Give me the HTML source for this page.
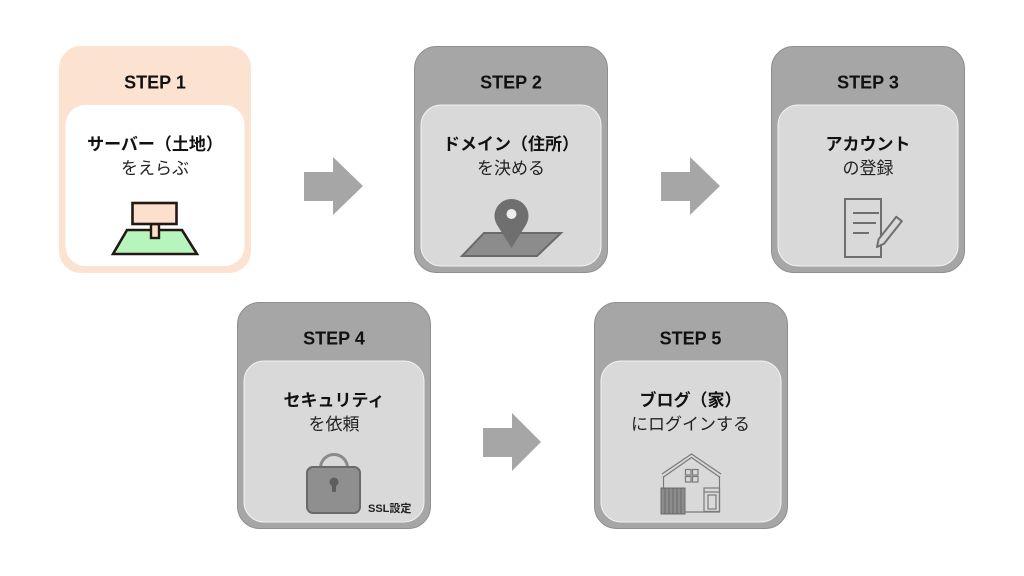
<!DOCTYPE html>
<html>
<head>
<meta charset="utf-8">
<style>
html,body{margin:0;padding:0;background:#fff;}
svg{display:block;}
.step{font-family:"Liberation Sans","Noto Sans CJK JP",sans-serif;font-weight:bold;font-size:18px;fill:#111;}
.t1{font-family:"Liberation Sans","Noto Sans CJK JP",sans-serif;font-weight:bold;font-size:17px;fill:#111;}
.t2{font-family:"Liberation Sans","Noto Sans CJK JP",sans-serif;font-size:17px;fill:#222;}
</style>
</head>
<body>
<svg width="1024" height="576" viewBox="0 0 1024 576" xmlns="http://www.w3.org/2000/svg">
<rect width="1024" height="576" fill="#fff"/>

<!-- Box 1 -->
<rect x="59" y="46" width="192" height="227" rx="22" fill="#fce3d1"/>
<rect x="65.5" y="105" width="179" height="161" rx="20" fill="#ffffff"/>
<text class="step" x="155" y="88.5" text-anchor="middle">STEP 1</text>
<text class="t1" x="155" y="150" text-anchor="middle">サーバー（土地）</text>
<text class="t2" x="155" y="174" text-anchor="middle">をえらぶ</text>
<polygon points="127,230 182,230 197,254 113,254" fill="#b6f5bc" stroke="#231815" stroke-width="2.6" stroke-linejoin="miter"/>
<rect x="151" y="224" width="8" height="14" fill="#fde0cc" stroke="#231815" stroke-width="2.4"/>
<rect x="132.5" y="203" width="44" height="21" fill="#fde0cc" stroke="#231815" stroke-width="2.6"/>

<!-- Box 2 -->
<rect x="414.5" y="46.5" width="193" height="226" rx="22" fill="#a6a6a6" stroke="#8f8f8f" stroke-width="1"/>
<rect x="421" y="105" width="180" height="161" rx="20" fill="#d9d9d9" stroke="#f2f2f2" stroke-width="1"/>
<text class="step" x="511" y="88.5" text-anchor="middle">STEP 2</text>
<text class="t1" x="511" y="150" text-anchor="middle">ドメイン（住所）</text>
<text class="t2" x="511" y="174" text-anchor="middle">を決める</text>
<polygon points="484,233 561,233 537,256 462,256" fill="#8c8c8c" stroke="#6a6a6a" stroke-width="2"/>
<path d="M511.5 248 L497.1 225 A17 17 0 1 1 525.9 225 Z" fill="#6f6f6f"/>
<circle cx="511.5" cy="214" r="5" fill="#eeeeee"/>

<!-- Box 3 -->
<rect x="771.5" y="46.5" width="193" height="226" rx="22" fill="#a6a6a6" stroke="#8f8f8f" stroke-width="1"/>
<rect x="778" y="105" width="180" height="161" rx="20" fill="#d9d9d9" stroke="#f2f2f2" stroke-width="1"/>
<text class="step" x="868" y="88.5" text-anchor="middle">STEP 3</text>
<text class="t1" x="868" y="150" text-anchor="middle">アカウント</text>
<text class="t2" x="868" y="174" text-anchor="middle">の登録</text>
<rect x="845" y="199" width="36" height="58" fill="none" stroke="#6f6f6f" stroke-width="2"/>
<line x1="853" y1="213" x2="879" y2="213" stroke="#6f6f6f" stroke-width="2"/>
<line x1="853" y1="223" x2="876" y2="223" stroke="#6f6f6f" stroke-width="2"/>
<line x1="853" y1="233" x2="869" y2="233" stroke="#6f6f6f" stroke-width="2"/>
<polygon points="877,247 884,243.7 901.8,221.2 896.3,216.8 878.6,239.3" fill="#d9d9d9" stroke="#6f6f6f" stroke-width="2" stroke-linejoin="round"/>

<!-- Box 4 -->
<rect x="237.5" y="302.5" width="193" height="226" rx="22" fill="#a6a6a6" stroke="#8f8f8f" stroke-width="1"/>
<rect x="244" y="361" width="180" height="161" rx="20" fill="#d9d9d9" stroke="#f2f2f2" stroke-width="1"/>
<text class="step" x="334" y="344.5" text-anchor="middle">STEP 4</text>
<text class="t1" x="334" y="406" text-anchor="middle">セキュリティ</text>
<text class="t2" x="334" y="430" text-anchor="middle">を依頼</text>
<path d="M320.5 468 A13.5 13.5 0 0 1 347.5 468" fill="none" stroke="#8a8a8a" stroke-width="3"/>
<rect x="307" y="467" width="53" height="46" rx="6" fill="#8f8f8f" stroke="#6a6a6a" stroke-width="2"/>
<circle cx="334" cy="482" r="4.5" fill="#5e5e5e"/>
<rect x="332" y="482" width="4" height="10" rx="1" fill="#5e5e5e"/>
<text x="368" y="512" font-family="'Liberation Sans','Noto Sans CJK JP',sans-serif" font-weight="bold" font-size="11" fill="#222">SSL設定</text>

<!-- Box 5 -->
<rect x="594.5" y="302.5" width="193" height="226" rx="22" fill="#a6a6a6" stroke="#8f8f8f" stroke-width="1"/>
<rect x="601" y="361" width="180" height="161" rx="20" fill="#d9d9d9" stroke="#f2f2f2" stroke-width="1"/>
<text class="step" x="690.5" y="344.5" text-anchor="middle">STEP 5</text>
<text class="t1" x="690.5" y="406" text-anchor="middle">ブログ（家）</text>
<text class="t2" x="690.5" y="430" text-anchor="middle">にログインする</text>
<g fill="none" stroke="#7a7a7a" stroke-width="1.2">
<polyline points="662,474 691.5,454 721,474"/>
<polyline points="663.5,477 691.5,457.5 719.5,477"/>
<line x1="663.5" y1="476" x2="663.5" y2="489"/>
<line x1="719.5" y1="476" x2="719.5" y2="512"/>
<line x1="685" y1="512" x2="720" y2="512"/>
<rect x="685.5" y="469.5" width="5.5" height="5.5"/>
<rect x="692.5" y="469.5" width="5.5" height="5.5"/>
<rect x="685.5" y="476.5" width="5.5" height="5.5"/>
<rect x="692.5" y="476.5" width="5.5" height="5.5"/>
<rect x="704" y="488" width="15.5" height="23.5"/>
<line x1="704" y1="492" x2="719.5" y2="492"/>
<rect x="708" y="495" width="8" height="14"/>
</g>
<rect x="661" y="488" width="24" height="26" fill="#8c8c8c" stroke="#6a6a6a" stroke-width="1"/>
<g stroke="#6a6a6a" stroke-width="1">
<line x1="665" y1="488" x2="665" y2="514"/>
<line x1="669" y1="488" x2="669" y2="514"/>
<line x1="673" y1="488" x2="673" y2="514"/>
<line x1="677" y1="488" x2="677" y2="514"/>
<line x1="681" y1="488" x2="681" y2="514"/>
</g>

<!-- Arrows -->
<polygon points="304,172 333,172 333,157 363,186 333,215 333,201 304,201" fill="#a6a6a6"/>
<polygon points="661,172 690,172 690,157 720,186 690,215 690,201 661,201" fill="#a6a6a6"/>
<polygon points="483,428 512,428 512,413 541,442 512,471 512,457 483,457" fill="#a6a6a6"/>
</svg>
</body>
</html>
